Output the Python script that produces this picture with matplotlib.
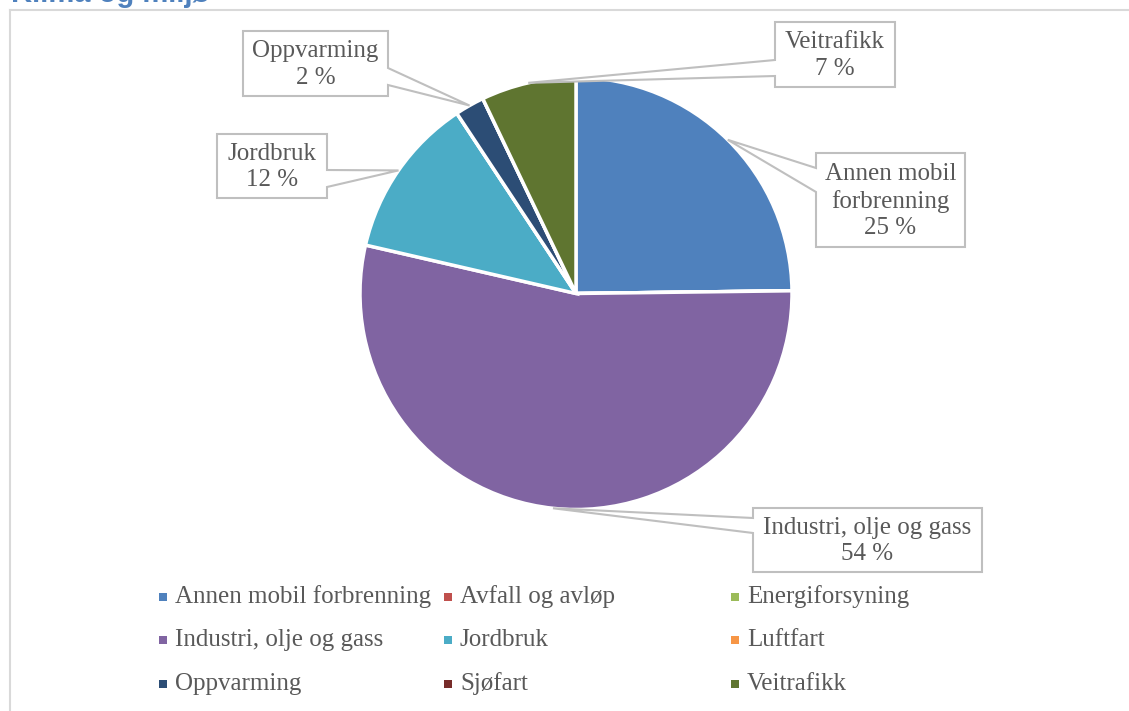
import matplotlib

matplotlib.use("Agg")

import numpy as np
import matplotlib.pyplot as plt
from matplotlib.patches import Polygon, Rectangle

# data
categories = ["Annen mobil forbrenning", "Avfall og avløp", "Energiforsyning",
              "Industri, olje og gass", "Jordbruk", "Luftfart",
              "Oppvarming", "Sjøfart", "Veitrafikk"]
shares = [24.8, 0, 0, 53.8, 12.1, 0, 2.2, 0, 7.1]
colors = ["#4F81BD", "#C0504D", "#9BBB59", "#8064A2", "#4BACC6", "#F79646",
          "#2C4D75", "#772C2A", "#5F7530"]
label_names = {"Annen mobil forbrenning": "Annen mobil\nforbrenning"}

W, H = 1129, 711
TXT = "#595959"
GRID = "#BFBFBF"
FONT = "Liberation Serif"
FS = 18


def py(y):
    # pixel row (from top) -> data y
    return H - y


# callout boxes: (x0, y0, x1, y1) in pixels, side of wedge, wedge edge rows
callouts = {
    "Annen mobil forbrenning": ((816, 153, 965, 247), "left", (168, 192)),
    "Industri, olje og gass": ((753, 508, 982, 572), "left", (518, 533)),
    "Jordbruk": ((217, 134, 327, 198), "right", (170, 187)),
    "Oppvarming": ((243, 31, 388, 96), "right", (68, 85)),
    "Veitrafikk": ((775, 22, 895, 87), "left", (60, 76)),
}

fig = plt.figure(figsize=(W / 100, H / 100), dpi=100, facecolor="white")
ax = fig.add_axes([0, 0, 1, 1])

# chart frame + cut-off heading
ax.plot([10, 10], [py(10), 0], color="#D9D9D9", lw=1.5)
ax.plot([10, W], [py(10), py(10)], color="#D9D9D9", lw=1.5)
ax.text(11, py(2), "Klima og miljø", color="#4F81BD", fontsize=21,
        fontweight="bold", family="Liberation Sans", va="baseline", ha="left")

cx, cy, r = 576, py(293.5), 216
wedges, _ = ax.pie(shares, colors=colors, startangle=90, counterclock=False,
                   center=(cx, cy), radius=r, frame=True,
                   wedgeprops=dict(edgecolor="white", linewidth=2.5))
ax.set_xlim(0, W)
ax.set_ylim(0, H)
ax.set_aspect("equal")
ax.axis("off")

total = sum(shares)
for wdg, name, val in zip(wedges, categories, shares):
    if name not in callouts:
        continue
    mid = np.deg2rad((wdg.theta1 + wdg.theta2) / 2)
    tip = (cx + r * np.cos(mid), cy + r * np.sin(mid))
    (x0, y0, x1, y1), side, (a, b) = callouts[name]
    if side == "left":
        pts = [(x0, py(y0)), (x1, py(y0)), (x1, py(y1)), (x0, py(y1)),
               (x0, py(b)), tip, (x0, py(a))]
    else:
        pts = [(x0, py(y0)), (x1, py(y0)), (x1, py(a)), tip, (x1, py(b)),
               (x1, py(y1)), (x0, py(y1))]
    ax.add_patch(Polygon(pts, closed=True, facecolor="white", edgecolor=GRID,
                         lw=1.5, zorder=5))
    txt = f"{label_names.get(name, name)}\n{round(val / total * 100)} %"
    ax.text((x0 + x1) / 2, py((y0 + y1) / 2 + 1), txt, ha="center", va="center",
            color=TXT, fontsize=FS, family=FONT, linespacing=1.25, zorder=6)

# legend, row-major in three equal columns
col_x = [163, 448, 735]
row_y = [597, 640, 684]
for i, (name, col) in enumerate(zip(categories, colors)):
    x = col_x[i % 3]
    y = py(row_y[i // 3])
    ax.add_patch(Rectangle((x - 4, y - 4), 8, 8, facecolor=col,
                           edgecolor="none", zorder=5))
    ax.text(x + 12, y, name, ha="left", va="center", color=TXT,
            fontsize=FS, family=FONT)

fig.savefig("out.png", dpi=100, facecolor="white")
